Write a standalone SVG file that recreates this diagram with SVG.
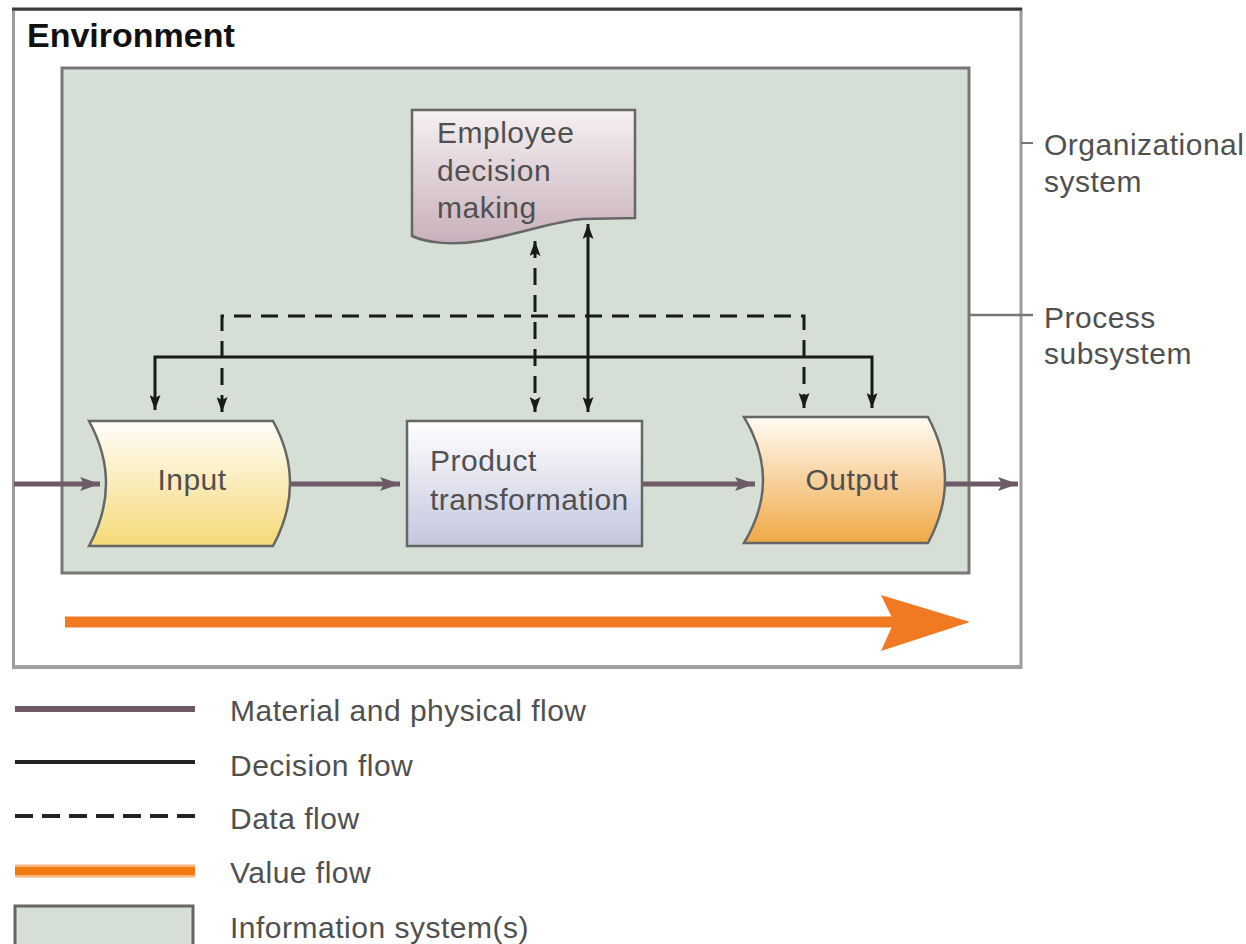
<svg xmlns="http://www.w3.org/2000/svg" width="1246" height="944" viewBox="0 0 1246 944">
<style>
.t{font-family:"Liberation Sans",Arial,sans-serif;font-size:30px;letter-spacing:0.5px;fill:#505050}
.dec{fill:none;stroke:#1a1a1a;stroke-width:3}
.dat{fill:none;stroke:#1a1a1a;stroke-width:3;stroke-dasharray:17 10}
.mat{fill:none;stroke:#6e5a66;stroke-width:5}
.shape{stroke:#666;stroke-width:2.5}
</style>
<defs>
<marker id="ah" viewBox="0 0 15 11" refX="15" refY="5.5" markerWidth="15" markerHeight="11" markerUnits="userSpaceOnUse" orient="auto-start-reverse">
<path d="M0,0 L15,5.5 L0,11 L3,5.5 Z" fill="#1a1a1a"/>
</marker>
<marker id="mh" viewBox="0 0 20 14" refX="20" refY="7" markerWidth="20" markerHeight="14" markerUnits="userSpaceOnUse" orient="auto">
<path d="M0,0 L20,7 L0,14 L4,7 Z" fill="#6e5a66"/>
</marker>
<linearGradient id="gIn" x1="0" y1="0" x2="0" y2="1"><stop offset="0" stop-color="#fffefa"/><stop offset="1" stop-color="#f5d978"/></linearGradient>
<linearGradient id="gOut" x1="0" y1="0" x2="0" y2="1"><stop offset="0" stop-color="#fffbf4"/><stop offset="1" stop-color="#f0a845"/></linearGradient>
<linearGradient id="gProd" x1="0" y1="0" x2="0" y2="1"><stop offset="0" stop-color="#ffffff"/><stop offset="1" stop-color="#c4c6de"/></linearGradient>
<linearGradient id="gDoc" x1="0" y1="0" x2="0" y2="1"><stop offset="0" stop-color="#f6f0f2"/><stop offset="1" stop-color="#c8b0bb"/></linearGradient>
</defs>

<g id="environment">
<rect x="13.5" y="9.5" width="1007.5" height="657.5" fill="#fff" stroke="#9a9a9a" stroke-width="3"/>
<line x1="12" y1="9" x2="1022" y2="9" stroke="#3a3a3a" stroke-width="3"/>
<line x1="12" y1="667" x2="1022" y2="667" stroke="#a0a0a0" stroke-width="4"/>
<text x="27" y="47" font-family="Liberation Sans,Arial,sans-serif" font-size="34" font-weight="bold" fill="#111">Environment</text>
</g>

<g id="information-system">
<rect x="62" y="68" width="907" height="505" fill="#d6dfd6" stroke="#777" stroke-width="3"/>
</g>

<g id="labels-right">
<line x1="1021" y1="143" x2="1033" y2="143" stroke="#777" stroke-width="2"/>
<line x1="970" y1="315" x2="1033" y2="315" stroke="#777" stroke-width="2.5"/>
<text class="t" x="1044" y="155">Organizational</text>
<text class="t" x="1044" y="192">system</text>
<text class="t" x="1044" y="328">Process</text>
<text class="t" x="1044" y="364">subsystem</text>
</g>

<g id="connectors">
<path class="mat" d="M14,484 H100" marker-end="url(#mh)"/>
<path class="mat" d="M290,484 H400" marker-end="url(#mh)"/>
<path class="mat" d="M642,484 H755" marker-end="url(#mh)"/>
<path class="mat" d="M945,484 H1018" marker-end="url(#mh)"/>
<path class="dat" d="M222,412 V316 H804 V408" marker-start="url(#ah)" marker-end="url(#ah)"/>
<path class="dec" d="M155,410 V357 H872 V408" marker-start="url(#ah)" marker-end="url(#ah)"/>
<path class="dat" d="M535,241 V412" marker-start="url(#ah)" marker-end="url(#ah)"/>
<path class="dec" d="M588,224 V412" marker-start="url(#ah)" marker-end="url(#ah)"/>
</g>

<g id="employee-decision-making">
<path class="shape" fill="url(#gDoc)" d="M412,110 H635 V218 L582,219 C555,221 520,234 480,241 C450,246 425,242 412,236 Z"/>
<text class="t" x="437" y="143">Employee</text>
<text class="t" x="437" y="181">decision</text>
<text class="t" x="437" y="218">making</text>
</g>

<g id="input">
<path class="shape" fill="url(#gIn)" d="M89,421 H273 Q307,483 273,546 H89 Q123,483 89,421 Z"/>
<text class="t" x="192" y="490" text-anchor="middle">Input</text>
</g>

<g id="product-transformation">
<rect class="shape" x="407" y="421" width="235" height="125" fill="url(#gProd)"/>
<text class="t" x="430" y="471">Product</text>
<text class="t" x="430" y="510">transformation</text>
</g>

<g id="output">
<path class="shape" fill="url(#gOut)" d="M744,417 H928 Q962,480 928,543 H744 Q782,480 744,417 Z"/>
<text class="t" x="852" y="490" text-anchor="middle">Output</text>
</g>

<g id="value-flow">
<line x1="65" y1="622" x2="900" y2="622" stroke="#f07a22" stroke-width="11"/>
<polygon points="881,595 970,622 881,651 894,622" fill="#f07a22"/>
</g>

<g id="legend">
<line x1="15" y1="709" x2="195" y2="709" stroke="#6e5a66" stroke-width="6"/>
<line x1="15" y1="762" x2="195" y2="762" stroke="#222" stroke-width="4"/>
<line x1="15" y1="816" x2="195" y2="816" stroke="#222" stroke-width="4" stroke-dasharray="18 9"/>
<line x1="15" y1="871" x2="195" y2="871" stroke="#f8b47c" stroke-width="13"/>
<line x1="15" y1="871" x2="195" y2="871" stroke="#f07a10" stroke-width="8"/>
<rect x="15" y="906" width="178" height="50" fill="#d6dfd6" stroke="#666" stroke-width="3"/>
<text class="t" x="230" y="721">Material and physical flow</text>
<text class="t" x="230" y="776">Decision flow</text>
<text class="t" x="230" y="829">Data flow</text>
<text class="t" x="230" y="883">Value flow</text>
<text class="t" x="230" y="938">Information system(s)</text>
</g>
</svg>
